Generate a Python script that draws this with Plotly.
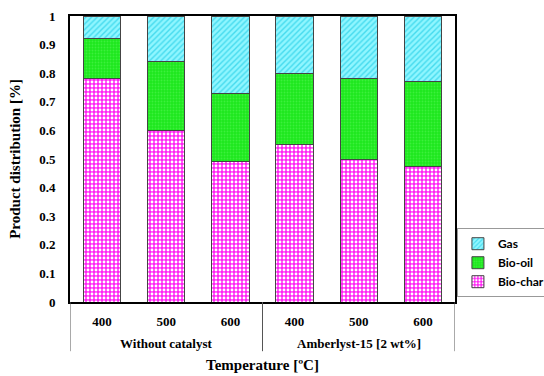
import plotly.graph_objects as go

# Product distribution by temperature, with and without catalyst
groups = ["Without catalyst", "Amberlyst-15 [2 wt%]"]
temps = ["400", "500", "600"]
bio_char = [0.78, 0.60, 0.49, 0.55, 0.50, 0.475]
bio_oil = [0.14, 0.24, 0.24, 0.25, 0.28, 0.295]
gas = [0.08, 0.16, 0.27, 0.20, 0.22, 0.23]

# one unique category per bar, labelled with its temperature
cats = [f"{g} {t}" for g in groups for t in temps]
tick_text = [t for g in groups for t in temps]

line = dict(color="#444444", width=1)

fig = go.Figure()
fig.add_trace(go.Bar(
    x=cats, y=bio_char, name="Bio-char",
    marker=dict(color="#ff22f5", line=line,
                pattern=dict(shape=".", bgcolor="#ff22f5", fgcolor="#ffffff",
                             size=4, solidity=0.4, fillmode="replace")),
))
fig.add_trace(go.Bar(
    x=cats, y=bio_oil, name="Bio-oil",
    marker=dict(color="#1ee81e", line=line,
                pattern=dict(shape=".", bgcolor="#1ee81e", fgcolor="#3cf03c",
                             size=3, solidity=0.3, fillmode="replace")),
))
fig.add_trace(go.Bar(
    x=cats, y=gas, name="Gas",
    marker=dict(color="#80f4ff", line=line,
                pattern=dict(shape="/", bgcolor="#8ff6ff", fgcolor="#45dbee",
                             size=4, solidity=0.35, fillmode="replace")),
))

serif = "Liberation Serif"
bold_serif = dict(family=serif, size=13, color="black", weight="bold")

# group labels beneath the temperature ticks, with dividers between groups
n = len(temps)
for i, g in enumerate(groups):
    fig.add_annotation(x=(i * n + (n - 1) / 2), xref="x", y=-0.145, yref="paper",
                       text=g, showarrow=False, font=bold_serif,
                       xanchor="center", yanchor="middle")
for k in range(len(groups) + 1):
    fig.add_shape(type="line", xref="x", yref="paper",
                  x0=k * n - 0.5, x1=k * n - 0.5, y0=0, y1=-0.172,
                  line=dict(color="#555555", width=1))

fig.update_layout(
    barmode="stack",
    bargap=0.42,
    width=544, height=376,
    margin=dict(l=70, r=89, t=16, b=74, autoexpand=False),
    plot_bgcolor="white",
    paper_bgcolor="white",
    font=dict(family=serif, size=13, color="black"),
    legend=dict(
        x=1.005, y=0.258, xanchor="left", yanchor="top",
        traceorder="reversed",
        bgcolor="white", bordercolor="#999999", borderwidth=1,
        font=dict(family="Lato", size=12, color="black", weight="bold"),
        itemwidth=30, tracegroupgap=2,
    ),
    xaxis=dict(
        type="category", range=[-0.5, len(cats) - 0.5],
        tickvals=cats, ticktext=tick_text,
        showline=True, linecolor="black", linewidth=2, mirror=True,
        ticks="outside", ticklen=6, tickcolor="rgba(0,0,0,0)", showgrid=False,
        tickfont=bold_serif,
        title=dict(text="Temperature [ºC]", standoff=32,
                   font=dict(family=serif, size=15, color="black", weight="bold")),
    ),
    yaxis=dict(
        range=[0, 1], dtick=0.1,
        showline=True, linecolor="black", linewidth=2, mirror=True,
        ticks="outside", ticklen=10, tickcolor="rgba(0,0,0,0)",
        showgrid=False, zeroline=False,
        tickfont=bold_serif,
        title=dict(text="Product distribution [%]", standoff=15,
                   font=dict(family=serif, size=15, color="black", weight="bold")),
    ),
)

fig.write_html("out.html")
